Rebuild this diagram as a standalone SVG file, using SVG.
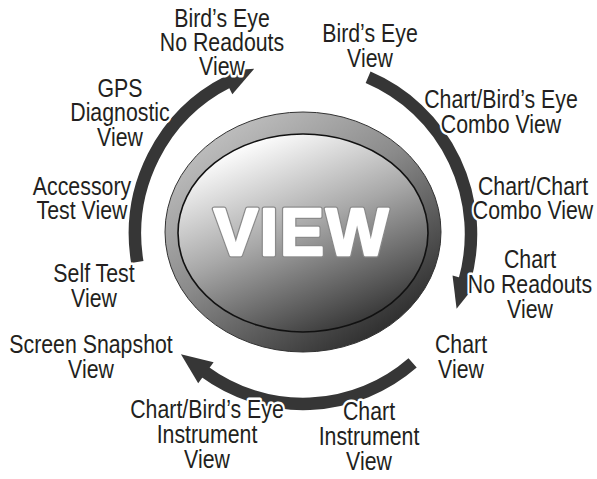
<svg xmlns="http://www.w3.org/2000/svg" width="597" height="479" viewBox="0 0 597 479">
<defs>
<style>
.lbl text{font-family:"Liberation Sans","Arial",sans-serif;font-size:26px;fill:#231f20;text-anchor:middle;stroke:#fff;stroke-width:5;stroke-linejoin:round;paint-order:stroke}
.arc{fill:none;stroke:#363636;stroke-width:12.5;stroke-linecap:butt}
.big{font-family:"Liberation Sans","Arial",sans-serif;font-weight:bold;font-size:66px;text-anchor:middle;letter-spacing:2px;stroke-linejoin:round}
</style>
<marker id="ah" markerUnits="userSpaceOnUse" markerWidth="40" markerHeight="40" refX="2" refY="0" viewBox="-5 -20 40 40" orient="auto" overflow="visible">
<path d="M0,-13 L31,0 L0,13 Z" fill="#363636"/>
</marker>
<linearGradient id="ring" x1="0.15" y1="0.05" x2="0.85" y2="0.95">
<stop offset="0" stop-color="#c4c4c4"/>
<stop offset="0.45" stop-color="#8a8a8a"/>
<stop offset="1" stop-color="#252525"/>
</linearGradient>
<linearGradient id="face" x1="0.25" y1="0.05" x2="0.75" y2="1">
<stop offset="0" stop-color="#ffffff"/>
<stop offset="0.45" stop-color="#a8a8a8"/>
<stop offset="1" stop-color="#2e2e2e"/>
</linearGradient>
</defs>
<rect width="597" height="479" fill="#fff"/>
<g id="connectors">
<path class="arc" d="M137.3,262.1 A168,170 0 0 1 228.3,81.7" marker-end="url(#ah)"/>
<path class="arc" d="M368.1,77.3 A168,170 0 0 1 464.5,280.9" marker-end="url(#ah)"/>
<path class="arc" d="M412.6,362.9 A168,170 0 0 1 204.3,371.5" marker-end="url(#ah)"/>
</g>
<g id="view-button">
<ellipse cx="303" cy="232" rx="138" ry="120" fill="url(#ring)" stroke="#333" stroke-width="1"/>
<ellipse cx="303" cy="233" rx="125" ry="99" fill="url(#face)" stroke="#111" stroke-width="1.6"/>
<text class="big" x="302" y="255" fill="none" stroke="#8a8a8a" stroke-width="5">VIEW</text>
<text class="big" x="302" y="255" fill="#fff" stroke="#fff" stroke-width="2.5">VIEW</text>
</g>
<g id="n-birdseye-noreadouts" class="lbl" transform="translate(222 0) scale(0.82 1)"><text x="0" y="27">Bird’s Eye</text><text x="0" y="51">No Readouts</text><text x="0" y="75">View</text></g>
<g id="n-birdseye" class="lbl" transform="translate(370 0) scale(0.82 1)"><text x="0" y="42">Bird’s Eye</text><text x="0" y="67">View</text></g>
<g id="n-chart-birdseye-combo" class="lbl" transform="translate(501 0) scale(0.82 1)"><text x="0" y="108">Chart/Bird’s Eye</text><text x="0" y="133">Combo View</text></g>
<g id="n-chart-chart-combo" class="lbl" transform="translate(533 0) scale(0.82 1)"><text x="0" y="195">Chart/Chart</text><text x="0" y="219">Combo View</text></g>
<g id="n-chart-noreadouts" class="lbl" transform="translate(530 0) scale(0.82 1)"><text x="0" y="268">Chart</text><text x="0" y="293">No Readouts</text><text x="0" y="318">View</text></g>
<g id="n-chart" class="lbl" transform="translate(461 0) scale(0.82 1)"><text x="0" y="353">Chart</text><text x="0" y="378">View</text></g>
<g id="n-chart-instrument" class="lbl" transform="translate(369 0) scale(0.82 1)"><text x="0" y="420">Chart</text><text x="0" y="445">Instrument</text><text x="0" y="470">View</text></g>
<g id="n-chart-birdseye-instrument" class="lbl" transform="translate(207 0) scale(0.82 1)"><text x="0" y="418">Chart/Bird’s Eye</text><text x="0" y="443">Instrument</text><text x="0" y="468">View</text></g>
<g id="n-screen-snapshot" class="lbl" transform="translate(91 0) scale(0.82 1)"><text x="0" y="353">Screen Snapshot</text><text x="0" y="378">View</text></g>
<g id="n-self-test" class="lbl" transform="translate(94 0) scale(0.82 1)"><text x="0" y="282">Self Test</text><text x="0" y="307">View</text></g>
<g id="n-accessory" class="lbl" transform="translate(82 0) scale(0.82 1)"><text x="0" y="195">Accessory</text><text x="0" y="219">Test View</text></g>
<g id="n-gps" class="lbl" transform="translate(120 0) scale(0.82 1)"><text x="0" y="97">GPS</text><text x="0" y="121">Diagnostic</text><text x="0" y="146">View</text></g>
</svg>
